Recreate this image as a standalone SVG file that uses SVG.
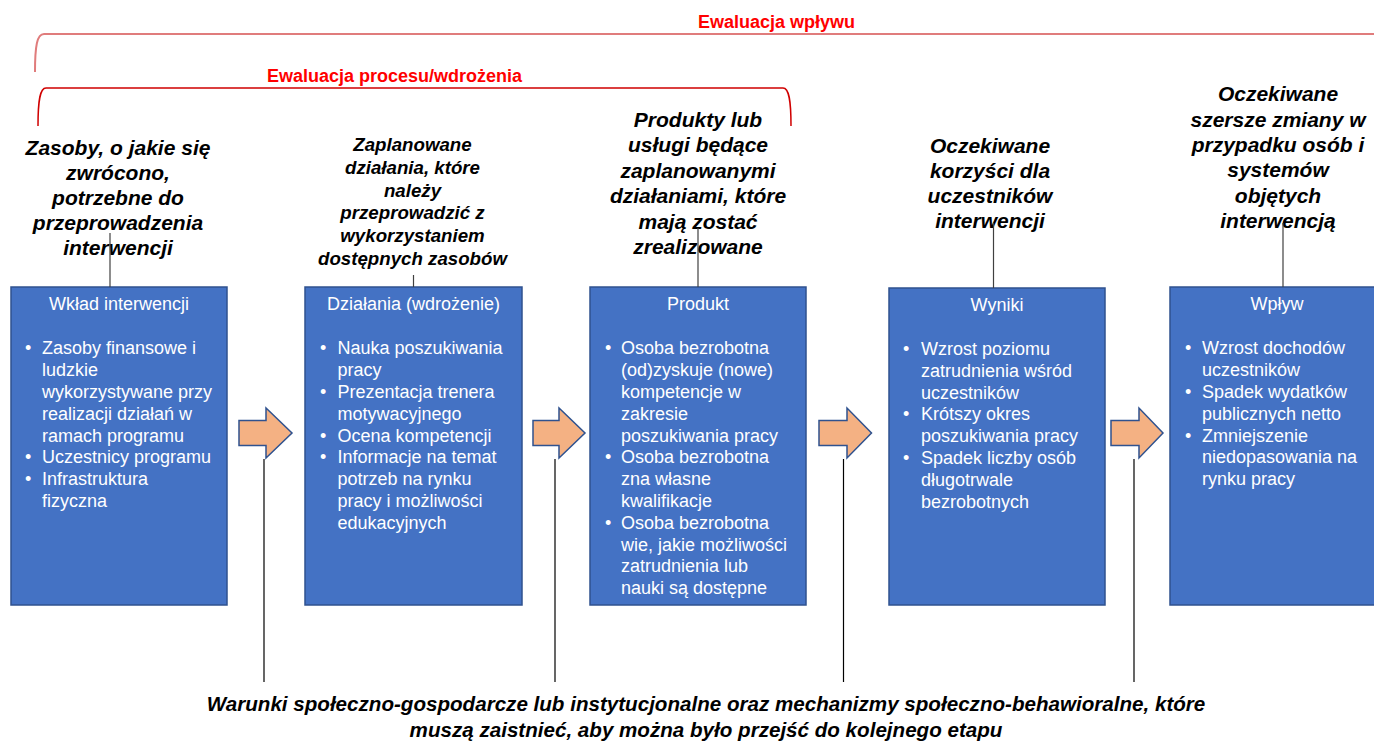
<svg xmlns="http://www.w3.org/2000/svg" width="1374" height="743" viewBox="0 0 1374 743">
<style>
.box{fill:#4472C4;stroke:#2F528F;stroke-width:1.5}
.arrow{fill:#F4B183;stroke:#2F528F;stroke-width:1.5}
.hd{font-family:"Liberation Sans",Arial,sans-serif;font-size:18px;fill:#fff;text-anchor:middle}
.bt{font-family:"Liberation Sans",Arial,sans-serif;font-size:18px;fill:#fff}
.ttl{font-family:"Liberation Sans",Arial,sans-serif;font-size:21px;font-weight:bold;font-style:italic;fill:#000;text-anchor:middle}
.ttl2{font-family:"Liberation Sans",Arial,sans-serif;font-size:18.7px;font-weight:bold;font-style:italic;fill:#000;text-anchor:middle}
.red{font-family:"Liberation Sans",Arial,sans-serif;font-size:18px;font-weight:bold;fill:#FF0000}
.bottom{font-family:"Liberation Sans",Arial,sans-serif;font-size:20.6px;font-weight:bold;font-style:italic;fill:#000;text-anchor:middle}
.up{stroke:#404040;stroke-width:1.2;fill:none}
.down{stroke:#000;stroke-width:1.2;fill:none}
</style>
<rect width="1374" height="743" fill="#fff"/>

<g id="brackets">
<path d="M35,72 C35,46 37,34 44,34 H1380" fill="none" stroke="#E07C7C" stroke-width="2"/>
<text class="red" x="698" y="28">Ewaluacja wpływu</text>
<path d="M38,126 C38,100 40,88 46,88 H783 C789,88 791,100 791,126" fill="none" stroke="#D00000" stroke-width="1.5"/>
<text class="red" x="267" y="82">Ewaluacja procesu/wdrożenia</text>
</g>

<g id="title1">
<text class="ttl" x="118" y="155">Zasoby, o jakie się</text>
<text class="ttl" x="118" y="180">zwrócono,</text>
<text class="ttl" x="118" y="205">potrzebne do</text>
<text class="ttl" x="118" y="230">przeprowadzenia</text>
<text class="ttl" x="118" y="255">interwencji</text>
</g>
<g id="title2">
<text class="ttl2" x="412.5" y="151">Zaplanowane</text>
<text class="ttl2" x="412.5" y="173.8">działania, które</text>
<text class="ttl2" x="412.5" y="196.6">należy</text>
<text class="ttl2" x="412.5" y="219.4">przeprowadzić z</text>
<text class="ttl2" x="412.5" y="242.2">wykorzystaniem</text>
<text class="ttl2" x="412.5" y="265">dostępnych zasobów</text>
</g>
<g id="title3">
<text class="ttl" x="698" y="127">Produkty lub</text>
<text class="ttl" x="698" y="152.4">usługi będące</text>
<text class="ttl" x="698" y="177.8">zaplanowanymi</text>
<text class="ttl" x="698" y="203.2">działaniami, które</text>
<text class="ttl" x="698" y="228.6">mają zostać</text>
<text class="ttl" x="698" y="254">zrealizowane</text>
</g>
<g id="title4">
<text class="ttl" x="990" y="153">Oczekiwane</text>
<text class="ttl" x="990" y="178">korzyści dla</text>
<text class="ttl" x="990" y="203">uczestników</text>
<text class="ttl" x="990" y="228">interwencji</text>
</g>
<g id="title5">
<text class="ttl" x="1278" y="101">Oczekiwane</text>
<text class="ttl" x="1278" y="126.5">szersze zmiany w</text>
<text class="ttl" x="1278" y="152">przypadku osób i</text>
<text class="ttl" x="1278" y="177">systemów</text>
<text class="ttl" x="1278" y="202.5">objętych</text>
<text class="ttl" x="1278" y="228">interwencją</text>
</g>

<g id="box1">
<rect class="box" x="11" y="287" width="216" height="318"/>
<text class="hd" x="119" y="310">Wkład interwencji</text>
<g class="bt">
<text x="25" y="354.3">•</text><text x="42" y="354.3">Zasoby finansowe i</text>
<text x="42" y="376.1">ludzkie</text>
<text x="42" y="397.9">wykorzystywane przy</text>
<text x="42" y="419.7">realizacji działań w</text>
<text x="42" y="441.5">ramach programu</text>
<text x="25" y="463.3">•</text><text x="42" y="463.3">Uczestnicy programu</text>
<text x="25" y="485.1">•</text><text x="42" y="485.1">Infrastruktura</text>
<text x="42" y="506.9">fizyczna</text>
</g>
</g>

<g id="box2">
<rect class="box" x="305" y="287" width="217" height="318"/>
<text class="hd" x="413.5" y="310">Działania (wdrożenie)</text>
<g class="bt">
<text x="320" y="354.3">•</text><text x="337.5" y="354.3">Nauka poszukiwania</text>
<text x="337.5" y="376.1">pracy</text>
<text x="320" y="397.9">•</text><text x="337.5" y="397.9">Prezentacja trenera</text>
<text x="337.5" y="419.7">motywacyjnego</text>
<text x="320" y="441.5">•</text><text x="337.5" y="441.5">Ocena kompetencji</text>
<text x="320" y="463.3">•</text><text x="337.5" y="463.3">Informacje na temat</text>
<text x="337.5" y="485.1">potrzeb na rynku</text>
<text x="337.5" y="506.9">pracy i możliwości</text>
<text x="337.5" y="528.7">edukacyjnych</text>
</g>
</g>

<g id="box3">
<rect class="box" x="590" y="287" width="216" height="318"/>
<text class="hd" x="698" y="310">Produkt</text>
<g class="bt">
<text x="605" y="354.3">•</text><text x="621" y="354.3">Osoba bezrobotna</text>
<text x="621" y="376.1">(od)zyskuje (nowe)</text>
<text x="621" y="397.9">kompetencje w</text>
<text x="621" y="419.7">zakresie</text>
<text x="621" y="441.5">poszukiwania pracy</text>
<text x="605" y="463.3">•</text><text x="621" y="463.3">Osoba bezrobotna</text>
<text x="621" y="485.1">zna własne</text>
<text x="621" y="506.9">kwalifikacje</text>
<text x="605" y="528.7">•</text><text x="621" y="528.7">Osoba bezrobotna</text>
<text x="621" y="550.5">wie, jakie możliwości</text>
<text x="621" y="572.3">zatrudnienia lub</text>
<text x="621" y="594.1">nauki są dostępne</text>
</g>
</g>

<g id="box4">
<rect class="box" x="889" y="288" width="216" height="317"/>
<text class="hd" x="997" y="311">Wyniki</text>
<g class="bt">
<text x="903" y="355">•</text><text x="921" y="355">Wzrost poziomu</text>
<text x="921" y="376.8">zatrudnienia wśród</text>
<text x="921" y="398.6">uczestników</text>
<text x="903" y="420.4">•</text><text x="921" y="420.4">Krótszy okres</text>
<text x="921" y="442.2">poszukiwania pracy</text>
<text x="903" y="464">•</text><text x="921" y="464">Spadek liczby osób</text>
<text x="921" y="485.8">długotrwale</text>
<text x="921" y="507.6">bezrobotnych</text>
</g>
</g>

<g id="box5">
<rect class="box" x="1170" y="287" width="216" height="318"/>
<text class="hd" x="1277" y="310">Wpływ</text>
<g class="bt">
<text x="1185" y="354.3">•</text><text x="1202" y="354.3">Wzrost dochodów</text>
<text x="1202" y="376.1">uczestników</text>
<text x="1185" y="397.9">•</text><text x="1202" y="397.9">Spadek wydatków</text>
<text x="1202" y="419.7">publicznych netto</text>
<text x="1185" y="441.5">•</text><text x="1202" y="441.5">Zmniejszenie</text>
<text x="1202" y="463.3">niedopasowania na</text>
<text x="1202" y="485.1">rynku pracy</text>
</g>
</g>

<g id="arrows">
<polygon class="arrow" points="239,420.5 266,420.5 266,408 292,433 266,458 266,445.5 239,445.5"/>
<polygon class="arrow" points="533,420.5 559,420.5 559,408 585,433 559,458 559,445.5 533,445.5"/>
<polygon class="arrow" points="819,420.5 847,420.5 847,408 871.5,433 847,458 847,445.5 819,445.5"/>
<polygon class="arrow" points="1111,420.5 1139,420.5 1139,408 1163,433 1139,458 1139,445.5 1111,445.5"/>
</g>

<g id="connectors">
<line class="up" x1="110" y1="233" x2="110" y2="287"/>
<line class="up" x1="413.5" y1="275" x2="413.5" y2="287"/>
<line class="up" x1="698" y1="228" x2="698" y2="287"/>
<line class="up" x1="993.5" y1="223" x2="993.5" y2="288"/>
<line class="up" x1="1283" y1="223" x2="1283" y2="287"/>
<line class="down" x1="264" y1="459" x2="264" y2="682"/>
<line class="down" x1="555" y1="459" x2="555" y2="682"/>
<line class="down" x1="843.5" y1="459" x2="843.5" y2="682"/>
<line class="down" x1="1134" y1="459" x2="1134" y2="682"/>
</g>

<g id="conditions">
<text class="bottom" x="706" y="711">Warunki społeczno-gospodarcze lub instytucjonalne oraz mechanizmy społeczno-behawioralne, które</text>
<text class="bottom" x="706" y="737">muszą zaistnieć, aby można było przejść do kolejnego etapu</text>
</g>
</svg>
